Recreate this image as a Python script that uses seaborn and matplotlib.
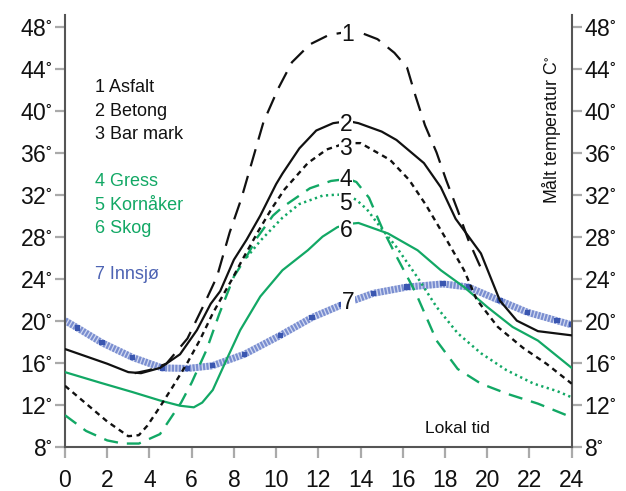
import matplotlib
matplotlib.use("Agg")
import matplotlib.pyplot as plt
import seaborn as sns
import numpy as np
import pandas as pd

# ---------------- data ----------------
asfalt_h = [3.3, 4.0, 4.8, 5.8, 6.6, 7.2, 7.8, 8.35, 9.4, 10.1, 10.75, 11.6, 12.5, 13.4, 13.9, 14.8, 15.6, 16.2, 16.6, 17.05, 17.6, 18.05, 18.6, 19.1, 19.7]
asfalt_t = [15.0, 15.3, 15.9, 18.3, 21.6, 24.2, 28.4, 31.6, 38.9, 42.1, 44.6, 46.3, 47.2, 47.5, 47.5, 46.8, 45.5, 44.1, 41.4, 38.6, 36.0, 33.4, 30.5, 27.7, 25.0]

betong_h = [0, 1, 2, 3, 3.6, 4.5, 5.45, 6.25, 6.9, 7.35, 8.0, 8.6, 9.25, 10.0, 10.3, 11.1, 11.9, 12.7, 13.4, 13.9, 15.0, 15.7, 17.0, 17.8, 18.5, 19.7, 20.6, 21.4, 22.4, 24]
betong_t = [17.3, 16.6, 15.9, 15.1, 15.0, 15.5, 16.8, 19.1, 21.6, 22.8, 25.8, 27.7, 30.0, 33.0, 34.0, 36.4, 38.1, 38.8, 39.0, 38.8, 38.0, 37.2, 35.0, 32.7, 29.7, 26.4, 21.9, 20.0, 19.0, 18.6]

barmark_h = [0, 1, 2, 3, 3.5, 3.9, 4.5, 5.1, 5.8, 6.4, 7.0, 7.9, 8.4, 9.15, 9.8, 10.4, 11.5, 12.4, 13.3, 14.0, 15.4, 16.3, 17.1, 18.1, 18.9, 19.5, 20.5, 21.7, 22.8, 24]
barmark_t = [13.8, 12.1, 10.4, 9.0, 9.1, 10.0, 11.8, 13.7, 16.0, 18.2, 20.7, 23.9, 25.8, 28.5, 30.7, 32.5, 35.0, 36.3, 36.9, 36.9, 35.3, 33.4, 31.0, 27.6, 24.8, 22.0, 19.4, 17.4, 15.9, 14.0]

gress_h = [0, 1, 2, 2.75, 3.5, 4.5, 4.9, 5.5, 6.0, 6.7, 7.3, 8.0, 8.6, 9.1, 9.85, 10.3, 11.6, 12.6, 13.4, 13.8, 14.4, 15.0, 15.6, 16.6, 17.6, 18.6, 19.7, 21.0, 22.4, 24]
gress_t = [11.0, 9.5, 8.6, 8.3, 8.3, 9.2, 10.4, 12.2, 14.1, 17.2, 20.6, 24.2, 26.1, 27.9, 30.0, 30.8, 32.6, 33.3, 33.5, 33.2, 31.7, 28.9, 26.5, 22.7, 18.1, 15.4, 14.0, 13.0, 12.1, 10.8]

korn_h = [8.6, 9.25, 10.3, 11.1, 12.2, 12.9, 13.4, 13.8, 14.3, 14.9, 15.7, 16.7, 17.6, 18.6, 19.7, 20.9, 22.2, 23.3, 24]
korn_t = [26.0, 27.6, 29.8, 31.1, 31.9, 32.0, 31.9, 31.5, 30.6, 29.0, 27.0, 24.1, 21.3, 18.8, 16.9, 15.3, 14.0, 13.3, 12.7]

skog_h = [0, 1.66, 3.2, 4.5, 5.45, 6.1, 6.5, 7.0, 7.7, 8.3, 9.25, 10.3, 11.5, 12.2, 12.9, 13.4, 13.9, 15.3, 16.7, 17.8, 18.9, 20.0, 21.2, 22.4, 24]
skog_t = [15.1, 14.1, 13.2, 12.4, 11.9, 11.75, 12.2, 13.4, 16.5, 19.1, 22.3, 24.8, 26.7, 28.0, 28.9, 29.2, 29.3, 28.3, 26.7, 24.8, 23.2, 21.3, 19.4, 18.1, 15.5]

innsjo_h = [0, 0.6, 1.75, 3.2, 4.6, 5.8, 6.97, 8.5, 10.2, 11.7, 13.1, 14.6, 16.2, 17.9, 19.1, 20.6, 21.9, 23.3, 24]
innsjo_t = [20.0, 19.3, 17.9, 16.5, 15.5, 15.45, 15.7, 16.8, 18.6, 20.3, 21.5, 22.6, 23.2, 23.5, 23.2, 21.9, 20.8, 20.0, 19.6]

series_names = ["1 Asfalt", "2 Betong", "3 Bar mark", "4 Gress", "5 Kornåker", "6 Skog", "7 Innsjø"]
curve_numbers = ["1", "2", "3", "4", "5", "6", "7"]
number_x = [13.4, 13.3, 13.3, 13.3, 13.3, 13.3, 13.4]
number_y = [47.2, 38.7, 36.4, 33.4, 31.2, 28.6, 21.7]

x_ticks = list(range(0, 25, 2))
y_ticks = list(range(8, 49, 4))
y_ticklabels = [f"{v}$^{{\\circ}}$" for v in y_ticks]
x_label = "Lokal tid"
y_label = "Målt temperatur C$^{\\circ}$"

# ---------------- styling ----------------
BLACK = "#111111"
GREEN = "#12a865"
BLUE_TXT = "#4d63b3"
BLUE_DARK = "#3a56b0"
BLUE_STRIPE = "#7a8ed0"
BLUE_BASE = "#d3daf1"

sns.set_theme(style="white")
plt.rcParams["font.family"] = ["Liberation Sans", "DejaVu Sans"]
plt.rcParams["mathtext.fontset"] = "custom"
plt.rcParams["mathtext.rm"] = "Liberation Sans"
plt.rcParams["mathtext.it"] = "Liberation Sans:italic"
plt.rcParams["mathtext.default"] = "regular"

fig = plt.figure(figsize=(6.26, 4.91), dpi=100)
ax = fig.add_axes([0.1038, 0.0902, 0.8095, 0.8793])


def line(h, t, **kw):
    df = pd.DataFrame({"h": h, "t": t})
    sns.lineplot(data=df, x="h", y="t", ax=ax, sort=False, estimator=None,
                 errorbar=None, legend=False, **kw)


# Innsjø: thick hatched light-blue band with dark squares
line(innsjo_h, innsjo_t, color=BLUE_BASE, linewidth=5.0, solid_capstyle="butt", zorder=2)
line(innsjo_h, innsjo_t, color=BLUE_STRIPE, linewidth=5.0, linestyle=(0, (0.32, 0.18)),
     dash_capstyle="butt", zorder=2.1)
sns.scatterplot(x=innsjo_h[1:], y=innsjo_t[1:], ax=ax, marker="s", s=14, color=BLUE_DARK,
                edgecolor="none", zorder=2.2, legend=False)

line(skog_h, skog_t, color=GREEN, linewidth=1.6, zorder=3)
line(korn_h, korn_t, color=GREEN, linewidth=1.8, linestyle=(0, (0.9, 1.4)), zorder=3)
line(gress_h, gress_t, color=GREEN, linewidth=1.7, linestyle=(0, (6.0, 3.8)), zorder=3)
line(barmark_h, barmark_t, color=BLACK, linewidth=1.7, linestyle=(0, (2.3, 1.9)), zorder=3)
line(betong_h, betong_t, color=BLACK, linewidth=1.6, zorder=3)
line(asfalt_h, asfalt_t, color=BLACK, linewidth=1.6, linestyle=(0, (8.0, 4.5)), zorder=3)

# numbers on curves (white box breaks the lines)
for n, xx, yy in zip(curve_numbers, number_x, number_y):
    ax.text(xx, yy, n, fontsize=16.5, color=BLACK, ha="center", va="center", zorder=5,
            bbox=dict(facecolor="white", edgecolor="none", pad=0.6))

# legend-like text block
legend_y = [42.16, 39.87, 37.69, 33.2, 31.0, 28.8, 24.35]
legend_c = [BLACK, BLACK, BLACK, GREEN, GREEN, GREEN, BLUE_TXT]
for name, yy, c in zip(series_names, legend_y, legend_c):
    ax.text(1.42, yy, name, fontsize=13, color=c, ha="left", va="center", zorder=5)

ax.text(0.7736, 0.0433, x_label, transform=ax.transAxes, fontsize=12.5, color=BLACK,
        ha="center", va="center")
ax.text(0.961, 0.7336, y_label, transform=ax.transAxes, fontsize=12.8, color=BLACK,
        ha="center", va="center", rotation=90)

# axes
ax.set_xlim(0, 24)
ax.set_ylim(8, 49.1)
ax.set_xticks(x_ticks)
ax.set_xticklabels([str(v) for v in x_ticks])
ax.set_yticks(y_ticks)
ax.set_yticklabels(y_ticklabels)
ax.set_xlabel("")
ax.set_ylabel("")
ax.yaxis.set_ticks_position("both")
ax.tick_params(axis="y", which="both", left=True, right=True, labelleft=True, labelright=True,
               direction="out", length=7.5, width=1.6, color="#aaaaaa",
               labelsize=16.5, labelcolor=BLACK, pad=1.5)
ax.tick_params(axis="x", bottom=True, direction="out", length=8, width=1.6, color="#aaaaaa",
               labelsize=16.5, labelcolor=BLACK, pad=8)
ax.spines["top"].set_visible(False)
for s in ["left", "right", "bottom"]:
    ax.spines[s].set_color("#555555")
    ax.spines[s].set_linewidth(1.5)
ax.grid(False)

fig.savefig("out.png", dpi=100)
